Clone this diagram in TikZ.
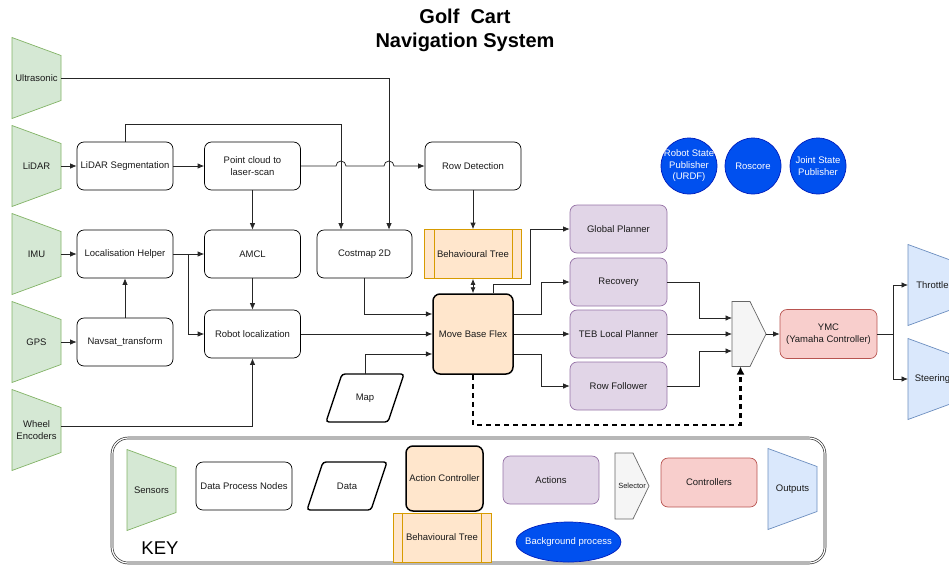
\documentclass[tikz,border=0pt]{standalone}
\usepackage{fontspec}
\setmainfont{Liberation Sans}
\usetikzlibrary{arrows.meta,backgrounds,calc,shapes.geometric}

\definecolor{sensorfill}{HTML}{D5E8D4}
\definecolor{sensorline}{HTML}{82B366}
\definecolor{outfill}{HTML}{DAE8FC}
\definecolor{outstroke}{HTML}{6C8EBF}
\definecolor{btfill}{HTML}{FFE6CC}
\definecolor{btline}{HTML}{D79B00}
\definecolor{actfill}{HTML}{E1D5E7}
\definecolor{actline}{HTML}{9673A6}
\definecolor{ctlfill}{HTML}{F8CECC}
\definecolor{ctlline}{HTML}{B85450}
\definecolor{selfill}{HTML}{F5F5F5}
\definecolor{selline}{HTML}{666666}
\definecolor{bgfill}{HTML}{0050EF}
\definecolor{bgline}{HTML}{001DBC}
\definecolor{txt}{HTML}{1A1A1A}

\tikzset{
  lbl/.style={font=\fontsize{9.5}{11.5}\selectfont, text=txt, align=center},
  shapebox/.style={lbl, inner sep=0pt, outer sep=0pt},
  sensor/.style={shapebox, minimum width=49pt, minimum height=81pt},
  parshape/.style={shapebox, minimum width=78pt, minimum height=48pt},
  selshape/.style={shapebox, minimum width=34pt, minimum height=65pt},
  procbox/.style={lbl, draw=black, line width=0.7pt, rounded corners=7pt, fill=white,
    minimum width=96pt, minimum height=48pt, inner sep=2pt},
  btree/.style={lbl, draw=btline, fill=btfill, line width=0.7pt,
    minimum width=97pt, minimum height=49pt, inner sep=2pt},
  actctl/.style={lbl, draw=black, fill=btfill, line width=1.5pt, rounded corners=7pt, inner sep=2pt},
  action/.style={lbl, draw=actline, fill=actfill, line width=0.7pt, rounded corners=7pt,
    minimum width=97pt, minimum height=48pt, inner sep=2pt},
  ctrl/.style={lbl, draw=ctlline, fill=ctlfill, line width=0.7pt, rounded corners=7pt,
    minimum width=97pt, minimum height=49pt, inner sep=2pt},
  bgproc/.style={draw=bgline, fill=bgfill, line width=0.7pt, inner sep=0pt},
  bgtext/.style={font=\fontsize{9.5}{11.5}\selectfont, text=white, align=center},
  conn/.style={line width=0.75pt, draw=black!85},
  arr/.style={conn, -{Latex[length=6.5pt,width=5.5pt]}},
  dblarr/.style={conn, {Latex[length=6pt,width=5pt]}-{Latex[length=6pt,width=5pt]}},
  dasharr/.style={draw=black, line width=2.2pt, dash pattern=on 5pt off 4pt,
    -{Latex[length=8pt,width=8pt]}},
}

\begin{document}
\begin{tikzpicture}[x=1pt,y=-1pt]
\useasboundingbox (0,0) rectangle (949,565);

% title
\node[font=\fontsize{20}{24}\selectfont\bfseries, align=center, text=black] (title) at (465,30)
  {Golf\ \ Cart\\Navigation System};

% sensors
\node[sensor] (us)  at (36.5,78)  {Ultrasonic};
\node[sensor] (li)  at (36.5,166) {LiDAR};
\node[sensor] (imu) at (36.5,254) {IMU};
\node[sensor] (gps) at (36.5,342) {GPS};
\node[sensor] (we)  at (36.5,430) {Wheel\\Encoders};

% data processing nodes
\node[procbox] (lseg) at (125,166)   {LiDAR Segmentation};
\node[procbox] (lh)   at (125,254)   {Localisation Helper};
\node[procbox] (nav)  at (125,342)   {Navsat\_transform};
\node[procbox] (pc)   at (252.5,166) {Point cloud to\\laser-scan};
\node[procbox] (amcl) at (252.5,254) {AMCL};
\node[procbox] (rl)   at (252.5,334) {Robot localization};
\node[procbox, minimum width=95pt] (cost) at (364.5,254) {Costmap 2D};
\node[procbox] (rd)   at (473,166)   {Row Detection};
\node[btree]   (bt)   at (473,254)   {Behavioural Tree};
\node[actctl, minimum width=80pt, minimum height=80pt] (mbf) at (473,334) {Move Base Flex};
\node[parshape] (map) at (365,398) {Map};

% actions
\node[action] (gp)  at (618.5,229) {Global Planner};
\node[action] (rec) at (618.5,282) {Recovery};
\node[action] (teb) at (618.5,334) {TEB Local Planner};
\node[action] (rf)  at (618.5,386) {Row Follower};

% selector, controller, outputs
\node[selshape] (sel) at (749,334) {};
\node[ctrl] (ymc) at (828.5,334) {YMC\\(Yamaha Controller)};
\node[sensor] (th) at (932.5,285) {Throttle};
\node[sensor] (st) at (932.5,379) {Steering};

% background processes
\node[bgproc, circle, minimum size=56pt, label={[bgtext]center:Robot State\\Publisher\\(URDF)}] (rsp) at (689,166) {};
\node[bgproc, circle, minimum size=56pt, label={[bgtext]center:Roscore}] (ros) at (753,166) {};
\node[bgproc, circle, minimum size=56pt, label={[bgtext]center:Joint State\\Publisher}] (jsp) at (818,166) {};

% legend
\node[draw=black!80, double, double distance=1.2pt, line width=0.7pt, rounded corners=16pt,
  minimum width=713pt, minimum height=125pt] (keybox) at (468.5,500.5) {};
\node[sensor] (ksens) at (151.5,490) {Sensors};
\node[procbox] (kproc) at (244,486) {Data Process Nodes};
\node[parshape, minimum width=80pt] (kdata) at (347,486) {Data};
\node[actctl, minimum width=77pt, minimum height=65pt] (kact) at (444.5,478.5) {Action Controller};
\node[btree, minimum width=98pt] (kbt) at (442,537.5) {Behavioural Tree};
\node[action, minimum width=96pt] (kacts) at (551,480) {Actions};
\node[selshape, minimum height=66pt, font=\fontsize{7.5}{9}\selectfont] (ksel) at (632,486) {Selector};
\node[ctrl, minimum width=96pt] (kctl) at (709,482.5) {Controllers};
\node[sensor] (kout) at (792.5,489) {Outputs};
\node[bgproc, ellipse, minimum width=105pt, minimum height=40pt,
  label={[bgtext]center:Background process}] (kbg) at (568.5,542) {};
\node[font=\fontsize{18.5}{22}\selectfont, text=black] (keylbl) at (160,548) {KEY};

% shape outlines behind the labels
\begin{scope}[on background layer]
  \foreach \n in {us,li,imu,gps,we,ksens}
    \draw[draw=sensorline, fill=sensorfill, line width=0.7pt]
      (\n.north west) -- ([yshift=-18pt]\n.north east) -- ([yshift=18pt]\n.south east) -- (\n.south west) -- cycle;
  \foreach \n in {th,st,kout}
    \draw[draw=outstroke, fill=outfill, line width=0.7pt]
      (\n.north west) -- ([yshift=-18pt]\n.north east) -- ([yshift=18pt]\n.south east) -- (\n.south west) -- cycle;
  \foreach \n in {map,kdata}
    \draw[line width=1.4pt, fill=white, rounded corners=3pt]
      ([xshift=16pt]\n.north west) -- (\n.north east) -- ([xshift=-16pt]\n.south east) -- (\n.south west) -- cycle;
  \foreach \n in {sel,ksel}
    \draw[draw=selline, fill=selfill, line width=0.7pt]
      (\n.north west) -- ([xshift=18pt]\n.north west) -- (\n.east) -- ([xshift=18pt]\n.south west) -- (\n.south west) -- cycle;
\end{scope}

% inner bars of the behaviour tree boxes
\foreach \n in {bt,kbt} {
  \draw[draw=btline, line width=0.7pt] ([xshift=10pt]\n.north west) -- ([xshift=10pt]\n.south west);
  \draw[draw=btline, line width=0.7pt] ([xshift=-10pt]\n.north east) -- ([xshift=-10pt]\n.south east);
}

% connectors
\draw[arr] (us.east) -| ([xshift=24.5pt]cost.north);
\draw[arr] (lseg.north) -- ++(0,-17) -| ([xshift=-23.5pt]cost.north);
\draw[arr] (li.east) -- (lseg.west);
\draw[arr] (lseg.east) -- (pc.west);
\draw[arr] (pc.east) -- (336,166) arc[start angle=180, end angle=0, radius=5pt]
  -- (384,166) arc[start angle=180, end angle=0, radius=5pt] -- (rd.west);
\draw[arr] (pc.south) -- (amcl.north);
\draw[arr] (imu.east) -- (lh.west);
\draw[arr] (gps.east) -- (nav.west);
\draw[arr] (nav.north) -- (lh.south);
\draw[arr] (lh.east) -- (amcl.west);
\draw[arr] (lh.east) -- ++(15,0) |- (rl.west);
\draw[arr] (amcl.south) -- (rl.north);
\draw[arr] ([yshift=4pt]we.east) -| (rl.south);
\draw[arr] (cost.south) |- ([yshift=20pt]mbf.west);
\draw[arr] (rl.east) -- (mbf.west);
\draw[arr] (map.north) |- ([yshift=-20pt]mbf.west);
\draw[arr] (rd.south) -- (bt.north);
\draw[dblarr] (bt.south) -- (mbf.north);
\draw[arr] ([xshift=20pt]mbf.north) -- ++(0,-9) -| ([xshift=-39pt]gp.west) -- (gp.west);
\draw[arr] ([yshift=20pt]mbf.east) -| ([xshift=-28pt]rec.west) -- (rec.west);
\draw[arr] (mbf.east) -- (teb.west);
\draw[arr] ([yshift=-20pt]mbf.east) -| ([xshift=-28pt]rf.west) -- (rf.west);
\draw[arr] (rec.east) -| ([xshift=-33pt,yshift=16pt]sel.west) -- ([yshift=16pt]sel.west);
\draw[arr] (teb.east) -- (sel.west);
\draw[arr] (rf.east) -| ([xshift=-33pt,yshift=-17pt]sel.west) -- ([yshift=-17pt]sel.west);
\draw[arr] (sel.east) -- (ymc.west);
\draw[arr] (ymc.east) -- ++(16,0) |- (th.west);
\draw[arr] (ymc.east) -- ++(16,0) |- (st.west);
\draw[dasharr] (mbf.south) -- ++(0,50) -| ($(sel.south west)!0.5!(sel.south)$);

\end{tikzpicture}
\end{document}
